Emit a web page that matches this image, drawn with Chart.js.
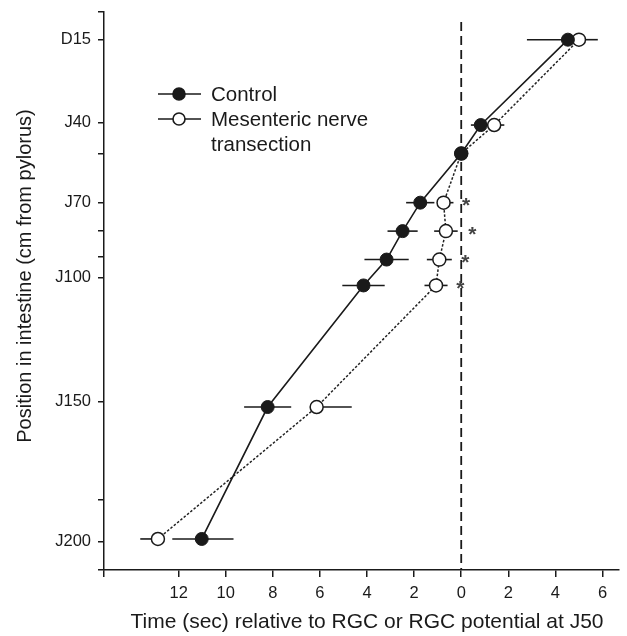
<!DOCTYPE html>
<html>
<head>
<meta charset="utf-8">
<script src="https://cdn.jsdelivr.net/npm/chart.js@4.4.1/dist/chart.umd.min.js"></script>
<style>
  html, body { margin: 0; padding: 0; background: #fff; }
  #wrap { width: 627px; height: 636px; }
</style>
</head>
<body>
<div id="wrap"><canvas id="chart"></canvas></div>
<script>
// recording sites, oral to aboral
const sites = ['D15', 'J40', 'J50', 'J70', 'J80', 'J90', 'J100', 'J150', 'J200'];
// row of each site on the position axis
const siteRow = [7, 40, 51, 70, 81, 92, 102, 149, 200];

// arrival time (s) relative to the J50 potential; negative = earlier
const controlTime  = [4.53, 0.83, 0, -1.74, -2.49, -3.17, -4.15, -8.22, -11.02];
const controlErrLo = [1.74, 0.42, 0, 0.6, 0.64, 0.94, 0.9, 1.0, 1.25];
const controlErrHi = [0, 0.42, 0, 0.6, 0.64, 0.94, 0.9, 1.0, 1.35];

const transectTime  = [5.0, 1.4, 0, -0.75, -0.65, -0.93, -1.07, -6.14, -12.88];
const transectErrLo = [0, 0, 0, 0, 0.5, 0.53, 0.49, 0, 0.75];
const transectErrHi = [0.8, 0.43, 0, 0.42, 0.5, 0.53, 0.49, 1.49, 0];

// significance stars: site index and x position (s)
const starSite = [3, 4, 5, 6];
const starTime = [0.21, 0.47, 0.17, -0.04];

// axis ticks
const yTickRows = [-3.7, 7, 39, 51, 70, 81, 91, 99, 147, 185, 201, 212];
const yTickText = ['', 'D15', 'J40', '', 'J70', '', '', 'J100', 'J150', '', 'J200', ''];
const xTickVals = [-15.17, -12, -10, -8, -6, -4, -2, 0, 2, 4, 6];

const xTitle = 'Time (sec) relative to RGC or RGC potential at J50';
const yTitle = 'Position in intestine (cm from pylorus)';

const INK = '#1a1a1a';
const FONT = 'Liberation Sans, Arial, sans-serif';

const pts = times => times.map((t, i) => ({ x: t, y: siteRow[i] }));

// horizontal SEM bars and the dashed zero line, under the markers
const underlay = {
  id: 'underlay',
  beforeDatasetsDraw(chart) {
    const { ctx, scales: { x, y }, chartArea } = chart;
    ctx.save();
    ctx.strokeStyle = INK;
    ctx.lineWidth = 1.8;
    ctx.setLineDash([9, 5]);
    const x0 = x.getPixelForValue(0);
    ctx.beginPath();
    ctx.moveTo(x0, 22);
    ctx.lineTo(x0, chartArea.bottom);
    ctx.stroke();
    ctx.setLineDash([]);
    ctx.lineWidth = 1.6;
    const bars = (times, lo, hi) => times.forEach((t, i) => {
      if (!lo[i] && !hi[i]) return;
      const py = y.getPixelForValue(siteRow[i]);
      ctx.beginPath();
      ctx.moveTo(x.getPixelForValue(t - lo[i]), py);
      ctx.lineTo(x.getPixelForValue(t + hi[i]), py);
      ctx.stroke();
    });
    bars(controlTime, controlErrLo, controlErrHi);
    bars(transectTime, transectErrLo, transectErrHi);
    ctx.restore();
  }
};

// stars, key and axis titles
const overlay = {
  id: 'overlay',
  afterDraw(chart) {
    const { ctx, scales: { x, y } } = chart;
    ctx.save();
    ctx.fillStyle = '#444';
    ctx.font = 'bold 21px ' + FONT;
    ctx.textAlign = 'center';
    ctx.textBaseline = 'middle';
    starSite.forEach((s, i) => {
      ctx.fillText('*', x.getPixelForValue(starTime[i]), y.getPixelForValue(siteRow[s]) + 4);
    });

    const keyX = 158, keyW = 43, keyY = [94, 119];
    ctx.strokeStyle = INK;
    ctx.lineWidth = 1.6;
    keyY.forEach((ky, i) => {
      ctx.beginPath();
      ctx.moveTo(keyX, ky);
      ctx.lineTo(keyX + keyW, ky);
      ctx.stroke();
      ctx.beginPath();
      ctx.arc(keyX + 21, ky, 6, 0, Math.PI * 2);
      ctx.fillStyle = i === 0 ? INK : '#fff';
      ctx.fill();
      ctx.stroke();
    });
    ctx.fillStyle = INK;
    ctx.font = '20.5px ' + FONT;
    ctx.textAlign = 'left';
    ctx.fillText('Control', 211, 95);
    ctx.fillText('Mesenteric nerve', 211, 120);
    ctx.fillText('transection', 211, 145);

    ctx.textAlign = 'center';
    ctx.font = '21px ' + FONT;
    ctx.fillText(xTitle, 367, 622);
    ctx.font = '20px ' + FONT;
    ctx.translate(25, 276);
    ctx.rotate(-Math.PI / 2);
    ctx.fillText(yTitle, 0, 0);
    ctx.restore();
  }
};

new Chart(document.getElementById('chart'), {
  type: 'scatter',
  data: {
    datasets: [{
      label: 'Control',
      data: pts(controlTime),
      showLine: true,
      borderColor: INK,
      borderWidth: 1.6,
      pointRadius: 6.5,
      pointBackgroundColor: INK,
      pointBorderColor: INK,
      pointBorderWidth: 1,
      order: 0
    }, {
      label: 'Mesenteric nerve transection',
      data: pts(transectTime),
      showLine: true,
      borderColor: '#222',
      borderWidth: 1.5,
      borderDash: [2.5, 1.8],
      pointRadius: 6.5,
      pointBackgroundColor: '#fff',
      pointBorderColor: INK,
      pointBorderWidth: 1.5,
      order: 1
    }]
  },
  options: {
    responsive: true,
    maintainAspectRatio: false,
    animation: false,
    layout: { padding: { top: 12, right: 7, left: 0, bottom: 0 } },
    plugins: { legend: { display: false }, tooltip: { enabled: false } },
    scales: {
      x: {
        type: 'linear',
        min: -15.17,
        max: 6.7,
        afterBuildTicks: s => { s.ticks = xTickVals.map(v => ({ value: v })); },
        afterFit: s => { s.height = 66; s.paddingLeft = 0; s.paddingRight = 0; },
        ticks: {
          callback: v => (v < -13 ? '' : String(Math.abs(v))),
          color: INK,
          font: { family: FONT, size: 16.5 },
          padding: 7,
          maxRotation: 0,
          autoSkip: false
        },
        grid: { drawOnChartArea: false, drawTicks: true, tickLength: 7, color: INK, lineWidth: 1.5 },
        border: { display: true, color: INK, width: 1.5 }
      },
      y: {
        type: 'linear',
        reverse: true,
        min: -3.7,
        max: 212,
        afterBuildTicks: s => { s.ticks = yTickRows.map(v => ({ value: v })); },
        afterFit: s => { s.width = 104; s.paddingTop = 0; s.paddingBottom = 0; },
        ticks: {
          callback: (v, i) => yTickText[i],
          color: INK,
          font: { family: FONT, size: 16.5 },
          padding: 7,
          autoSkip: false
        },
        grid: { drawOnChartArea: false, drawTicks: true, tickLength: 6, color: INK, lineWidth: 1.5 },
        border: { display: true, color: INK, width: 1.5 }
      }
    }
  },
  plugins: [underlay, overlay]
});
</script>
</body>
</html>
